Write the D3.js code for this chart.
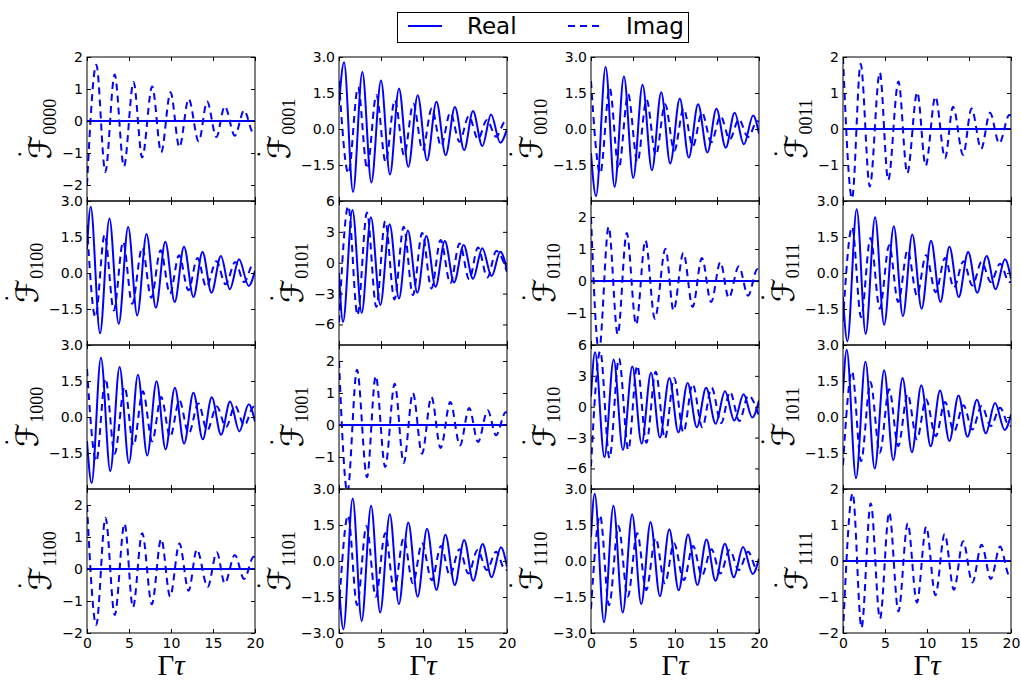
<!DOCTYPE html>
<html><head><meta charset="utf-8">
<script src="https://cdn.jsdelivr.net/npm/d3@7"></script>
<style>body{margin:0;background:#fff} svg{display:block}</style>
</head><body>
<svg id="chart" width="1021" height="681"></svg>
<script>
// Panel keys (row-major 4x4 grid)
const panelKeys = ["0000","0001","0010","0011","0100","0101","0110","0111",
                   "1000","1001","1010","1011","1100","1101","1110","1111"];

// y ranges and tick values for each panel
const yDomains = [[-2.5,2],[-3,3],[-3,3],[-2,2],
                  [-3,3],[-8,6],[-2,2.5],[-3,3],
                  [-3,3],[-2,2.5],[-8,6],[-3,3],
                  [-2,2.5],[-3,3],[-3,3],[-2,2]];
const yTickVals = [[-2,-1,0,1,2],[-1.5,0,1.5,3],[-1.5,0,1.5,3],[-1,0,1,2],
                   [-1.5,0,1.5,3],[-6,-3,0,3,6],[-1,0,1,2],[-1.5,0,1.5,3],
                   [-1.5,0,1.5,3],[-1,0,1,2],[-6,-3,0,3,6],[-1.5,0,1.5,3],
                   [-2,-1,0,1,2],[-3,-1.5,0,1.5,3],[-3,-1.5,0,1.5,3],[-2,-1,0,1,2]];
const xTickVals = [0,5,10,15,20];

// Real parts: [Γτ, value] at turning points
const flat = [[0,0],[20,0]];
const re0000 = flat;
const re0001 = [[0,1.0],[0.6,2.78],[1.67,-2.62],[2.78,2.37],[3.85,-2.23],[5.0,2.02],[6.07,-1.9],[7.14,1.69],[8.25,-1.58],[9.37,1.41],[10.48,-1.31],[11.6,1.14],[12.7,-1.09],[13.8,0.92],[14.9,-0.88],[15.95,0.75],[17.06,-0.71],[18.1,0.6],[19.2,-0.57],[20,0.0]];
const re0010 = [[0,-1.0],[0.6,-2.8],[1.74,2.58],[2.81,-2.41],[3.92,2.19],[5.03,-2.04],[6.14,1.84],[7.25,-1.72],[8.36,1.53],[9.43,-1.44],[10.57,1.27],[11.64,-1.19],[12.75,1.03],[13.86,-0.98],[14.93,0.84],[16.04,-0.78],[17.1,0.68],[18.2,-0.64],[19.3,0.56],[20,-0.2]];
const re0011 = flat;
const re0100 = [[0,1.0],[0.44,2.76],[1.55,-2.51],[2.67,2.27],[3.78,-2.12],[4.9,1.92],[5.98,-1.77],[7.09,1.62],[8.2,-1.45],[9.32,1.3],[10.44,-1.21],[11.55,1.09],[12.67,-1.0],[13.75,0.88],[14.82,-0.82],[15.94,0.71],[17.0,-0.68],[18.1,0.57],[19.25,-0.54],[20,0.1]];
const re0101 = [[0,-1.0],[0.48,-5.75],[1.6,5.13],[2.7,-4.87],[3.8,4.42],[4.92,-4.12],[6.03,3.73],[7.14,-3.47],[8.2,3.12],[9.33,-2.92],[10.4,2.6],[11.5,-2.34],[12.6,2.11],[13.7,-1.92],[14.84,1.72],[15.95,-1.56],[17.06,1.4],[18.17,-1.3],[19.2,1.07],[20,-0.7]];
const re0110 = flat;
const re0111 = [[0,-1.0],[0.52,-2.85],[1.63,2.66],[2.7,-2.54],[3.82,2.32],[4.9,-2.16],[6.05,1.95],[7.13,-1.8],[8.25,1.6],[9.36,-1.49],[10.48,1.34],[11.6,-1.21],[12.67,1.09],[13.78,-1.0],[14.9,0.88],[15.98,-0.82],[17.1,0.71],[18.17,-0.68],[19.28,0.57],[20,-0.24]];
const re1000 = [[0,-1.0],[0.55,-2.75],[1.66,2.47],[2.77,-2.26],[3.88,2.08],[5.0,-1.92],[6.06,1.76],[7.17,-1.6],[8.28,1.49],[9.35,-1.35],[10.46,1.22],[11.56,-1.11],[12.67,1.01],[13.78,-0.93],[14.85,0.82],[15.96,-0.74],[17.03,0.65],[18.14,-0.6],[19.25,0.53],[20,-0.2]];
const re1001 = flat;
const re1010 = [[0,1.0],[0.48,5.3],[1.6,-4.9],[2.7,4.6],[3.8,-4.2],[4.92,3.9],[6.03,-3.6],[7.14,3.3],[8.2,-3.0],[9.33,2.8],[10.4,-2.5],[11.5,2.3],[12.6,-2.0],[13.7,1.85],[14.84,-1.65],[15.95,1.5],[17.06,-1.35],[18.17,1.2],[19.2,-1.05],[20,0.6]];
const re1011 = [[0,1.0],[0.44,2.8],[1.55,-2.55],[2.67,2.3],[3.78,-2.15],[4.9,1.95],[5.98,-1.8],[7.09,1.62],[8.2,-1.47],[9.32,1.32],[10.44,-1.22],[11.55,1.1],[12.67,-1.0],[13.75,0.9],[14.82,-0.82],[15.94,0.72],[17.0,-0.68],[18.1,0.58],[19.25,-0.54],[20,0.1]];
const re1100 = flat;
const re1101 = [[0,-1.0],[0.52,-2.85],[1.63,2.6],[2.7,-2.5],[3.82,2.3],[4.9,-2.15],[6.05,1.95],[7.13,-1.8],[8.25,1.6],[9.36,-1.49],[10.48,1.34],[11.6,-1.21],[12.67,1.09],[13.78,-1.0],[14.9,0.88],[15.98,-0.82],[17.1,0.71],[18.17,-0.68],[19.28,0.57],[20,-0.24]];
const re1110 = [[0,1.0],[0.44,2.8],[1.55,-2.55],[2.67,2.3],[3.78,-2.15],[4.9,1.95],[5.98,-1.8],[7.09,1.62],[8.2,-1.47],[9.32,1.32],[10.44,-1.22],[11.55,1.1],[12.67,-1.0],[13.75,0.9],[14.82,-0.82],[15.94,0.72],[17.0,-0.68],[18.1,0.58],[19.25,-0.54],[20,0.1]];
const re1111 = flat;

// Imaginary parts: [Γτ, value] at turning points
const im0000 = [[0,-2.0],[1.11,1.76],[2.18,-1.59],[3.29,1.45],[4.4,-1.42],[5.54,1.22],[6.57,-1.14],[7.76,1.08],[8.83,-0.98],[9.94,0.9],[11.0,-0.82],[12.1,0.69],[13.3,-0.64],[14.3,0.61],[15.4,-0.5],[16.4,0.46],[17.6,-0.46],[18.7,0.33],[19.8,-0.37],[20,-0.36]];
const im0001 = [[0,2.0],[1.12,-1.85],[2.26,1.73],[3.35,-1.65],[4.45,1.42],[5.55,-1.37],[6.65,1.21],[7.75,-1.09],[8.85,1.05],[9.95,-0.88],[11.05,0.86],[12.15,-0.71],[13.25,0.68],[14.35,-0.53],[15.45,0.54],[16.55,-0.42],[17.6,0.38],[18.7,-0.32],[19.8,0.31],[20,0.3]];
const im0010 = [[0,2.0],[1.1,-1.85],[2.22,1.7],[3.3,-1.65],[4.42,1.45],[5.52,-1.37],[6.62,1.22],[7.72,-1.1],[8.82,1.03],[9.92,-0.9],[11.02,0.85],[12.12,-0.72],[13.22,0.68],[14.32,-0.55],[15.42,0.54],[16.52,-0.43],[17.6,0.4],[18.7,-0.33],[19.8,0.32],[20,0.31]];
const im0011 = [[0,2.0],[1.08,-1.93],[2.1,1.81],[3.19,-1.6],[4.38,1.57],[5.38,-1.42],[6.6,1.32],[7.65,-1.23],[8.84,1.02],[9.84,-1.02],[11.0,0.9],[12.15,-0.81],[13.1,0.62],[14.3,-0.72],[15.3,0.57],[16.45,-0.55],[17.5,0.45],[18.6,-0.4],[19.8,0.39],[20,0.38]];
const im0100 = [[0,2.0],[1.0,-1.84],[2.1,1.6],[3.2,-1.56],[4.3,1.3],[5.38,-1.28],[6.57,1.06],[7.65,-1.03],[8.76,0.95],[9.88,-0.86],[10.96,0.74],[12.07,-0.72],[13.15,0.63],[14.2,-0.58],[15.4,0.49],[16.5,-0.47],[17.65,0.46],[18.7,-0.38],[19.8,0.38],[20,0.36]];
const im0101 = [[0,-5.8],[1.1,5.5],[2.2,-5.1],[3.33,4.87],[4.44,-4.3],[5.5,4.06],[6.6,-3.57],[7.7,3.5],[8.8,-3.15],[9.9,2.9],[11.0,-2.5],[12.1,2.2],[13.25,-2.0],[14.36,1.88],[15.5,-1.62],[16.55,1.49],[17.66,-1.43],[18.73,1.13],[20,-0.9]];
const im0110 = [[0,2.0],[0.95,-2.2],[2.1,1.69],[3.18,-1.67],[4.25,1.5],[5.37,-1.36],[6.48,1.27],[7.6,-1.18],[8.87,1.01],[9.82,-0.92],[11.0,0.88],[12.1,-0.81],[13.2,0.72],[14.3,-0.66],[15.4,0.59],[16.4,-0.53],[17.6,0.46],[18.7,-0.46],[19.8,0.37],[20,0.35]];
const im0111 = [[0,-2.0],[1.08,1.92],[2.15,-1.84],[3.27,1.46],[4.38,-1.49],[5.5,1.16],[6.57,-1.21],[7.69,0.95],[8.8,-0.93],[9.88,0.74],[11.04,-0.8],[12.15,0.63],[13.2,-0.61],[14.34,0.49],[15.4,-0.52],[16.5,0.46],[17.6,-0.38],[18.7,0.39],[19.8,-0.38],[20,-0.37]];
const im1000 = [[0,2.0],[1.1,-1.85],[2.2,1.6],[3.3,-1.53],[4.47,1.25],[5.54,-1.18],[6.65,1.07],[7.76,-1.01],[8.83,0.83],[9.9,-0.83],[11.0,0.69],[12.1,-0.69],[13.27,0.56],[14.3,-0.56],[15.45,0.44],[16.55,-0.42],[17.62,0.46],[18.73,-0.35],[19.85,0.43],[20,0.42]];
const im1001 = [[0,2.0],[1.0,-2.1],[2.14,1.73],[3.33,-1.63],[4.37,1.53],[5.5,-1.31],[6.63,1.29],[7.7,-1.19],[8.8,1.0],[9.88,-0.9],[11.0,0.88],[12.1,-0.72],[13.25,0.72],[14.4,-0.64],[15.5,0.53],[16.55,-0.53],[17.7,0.46],[18.7,-0.32],[19.85,0.4],[20,0.39]];
const im1010 = [[0,-5.8],[1.1,5.4],[2.2,-5.0],[3.33,4.7],[4.44,-4.2],[5.5,4.0],[6.6,-3.5],[7.7,3.4],[8.8,-3.1],[9.9,2.8],[11.0,-2.5],[12.1,2.2],[13.25,-2.0],[14.36,1.85],[15.5,-1.6],[16.55,1.45],[17.66,-1.4],[18.73,1.1],[20,-0.9]];
const im1011 = [[0,-2.0],[1.08,1.9],[2.15,-1.84],[3.27,1.46],[4.38,-1.49],[5.5,1.16],[6.57,-1.21],[7.69,0.95],[8.8,-0.93],[9.88,0.74],[11.04,-0.8],[12.15,0.63],[13.2,-0.61],[14.34,0.49],[15.4,-0.52],[16.5,0.46],[17.6,-0.38],[18.7,0.39],[19.8,-0.38],[20,-0.37]];
const im1100 = [[0,2.0],[1.1,-1.75],[2.2,1.6],[3.3,-1.44],[4.47,1.42],[5.47,-1.2],[6.57,1.12],[7.72,-1.1],[8.83,0.94],[9.9,-0.86],[11.0,0.8],[12.1,-0.68],[13.07,0.61],[14.37,-0.56],[15.45,0.52],[16.4,-0.45],[17.6,0.44],[18.7,-0.31],[19.85,0.38],[20,0.37]];
const im1101 = [[0,-2.0],[1.08,1.9],[2.15,-1.84],[3.27,1.46],[4.38,-1.49],[5.5,1.16],[6.57,-1.21],[7.69,0.95],[8.8,-0.93],[9.88,0.74],[11.04,-0.8],[12.15,0.63],[13.2,-0.61],[14.34,0.49],[15.4,-0.52],[16.5,0.46],[17.6,-0.38],[18.7,0.39],[19.8,-0.38],[20,-0.37]];
const im1110 = [[0,-2.0],[1.08,1.9],[2.15,-1.84],[3.27,1.46],[4.38,-1.49],[5.5,1.16],[6.57,-1.21],[7.69,0.95],[8.8,-0.93],[9.88,0.74],[11.04,-0.8],[12.15,0.63],[13.2,-0.61],[14.34,0.49],[15.4,-0.52],[16.5,0.46],[17.6,-0.38],[18.7,0.39],[19.8,-0.38],[20,-0.37]];
const im1111 = [[0,-2.0],[1.15,1.88],[2.2,-1.85],[3.3,1.6],[4.4,-1.6],[5.5,1.35],[6.6,-1.4],[7.7,1.05],[8.8,-1.15],[9.9,0.95],[11.0,-0.95],[12.1,0.75],[13.2,-0.8],[14.3,0.55],[15.4,-0.6],[16.5,0.45],[17.6,-0.5],[18.7,0.4],[19.8,-0.4],[20,-0.38]];

const realSeries = [re0000,re0001,re0010,re0011,re0100,re0101,re0110,re0111,
                    re1000,re1001,re1010,re1011,re1100,re1101,re1110,re1111];
const imagSeries = [im0000,im0001,im0010,im0011,im0100,im0101,im0110,im0111,
                    im1000,im1001,im1010,im1011,im1100,im1101,im1110,im1111];

const legendLabels = ["Real","Imag"];
const xLabelMain = "Γ", xLabelItalic = "τ";

// ---- layout ----
const colX = [87, 339, 591, 843];
const rowY = [57, 201, 345, 489];
const W = 168, H = 144;
const BLUE = "#0000ff";
const DASH = "7,5";
const tickFont = "DejaVu Sans, sans-serif";

const svg = d3.select("#chart");
const defs = svg.append("defs");

panelKeys.forEach((key, i) => {
  const r = Math.floor(i / 4), c = i % 4;
  const g = svg.append("g").attr("transform", `translate(${colX[c]},${rowY[r]})`);
  const x = d3.scaleLinear().domain([0, 20]).range([0, W]);
  const y = d3.scaleLinear().domain(yDomains[i]).range([H, 0]);

  defs.append("clipPath").attr("id", "clip" + i)
    .append("rect").attr("width", W).attr("height", H);

  const line = d3.line().x(d => x(d[0])).y(d => y(d[1])).curve(d3.curveMonotoneX);
  const plot = g.append("g").attr("clip-path", `url(#clip${i})`);
  plot.append("path").datum(realSeries[i]).attr("d", line)
    .attr("fill", "none").attr("stroke", BLUE).attr("stroke-width", 2);
  plot.append("path").datum(imagSeries[i]).attr("d", line)
    .attr("fill", "none").attr("stroke", BLUE).attr("stroke-width", 2)
    .attr("stroke-dasharray", DASH);

  // frame
  g.append("rect").attr("width", W).attr("height", H)
    .attr("fill", "none").attr("stroke", "#000").attr("stroke-width", 1);

  const decimals = yTickVals[i].some(v => !Number.isInteger(v));
  const fmt = decimals ? d3.format(".1f") : d3.format("d");

  const yl = g.append("g").call(d3.axisLeft(y).tickValues(yTickVals[i])
      .tickSize(-4).tickPadding(4).tickFormat(fmt));
  const yr = g.append("g").attr("transform", `translate(${W},0)`)
    .call(d3.axisRight(y).tickValues(yTickVals[i]).tickSize(-4).tickFormat(""));
  const xt = g.append("g").call(d3.axisTop(x).tickValues(xTickVals).tickSize(-4).tickFormat(""));
  const xb = g.append("g").attr("transform", `translate(0,${H})`)
    .call(d3.axisBottom(x).tickValues(xTickVals).tickSize(-4).tickPadding(5)
      .tickFormat(r === 3 ? d3.format("d") : ""));
  [yl, yr, xt, xb].forEach(a => {
    a.select(".domain").remove();
    a.selectAll("line").attr("stroke", "#000");
    a.selectAll("text").attr("font-family", tickFont).attr("font-size", 14).attr("fill", "#000");
  });

  // y label: dotted script F with the panel key as subscript
  let minLeft = 0;
  yl.selectAll("text").each(function () {
    minLeft = Math.min(minLeft, this.getBBox().x);
  });
  const lab = g.append("g");
  const fT = lab.append("text").text("ℱ")
    .attr("font-family", "DejaVu Sans, sans-serif").attr("font-size", 31);
  const sT = lab.append("text").text(key)
    .attr("font-family", "Liberation Serif, serif").attr("font-size", 18).attr("y", 5);
  const fw = fT.node().getComputedTextLength();
  const sw = sT.node().getComputedTextLength();
  const start = -(fw + sw) / 2;
  fT.attr("x", start);
  sT.attr("x", start + fw);
  const dT = lab.append("text").text("˙")
    .attr("font-family", "DejaVu Sans, sans-serif").attr("font-size", 24);
  const db = dT.node().getBBox();
  dT.attr("x", start + 5 - db.x - db.width / 2).attr("y", -22 - db.y - db.height / 2);
  lab.attr("transform", `translate(${minLeft - 11},${H / 2}) rotate(-90)`);

  if (r === 3) {
    const xl = g.append("text").attr("x", W / 2).attr("y", 675 - rowY[3])
      .attr("text-anchor", "middle").attr("font-family", "Liberation Serif, serif")
      .attr("font-size", 29);
    xl.append("tspan").text(xLabelMain);
    xl.append("tspan").text(xLabelItalic).attr("font-style", "italic");
  }
});

// legend
const lg = svg.append("g");
lg.append("rect").attr("x", 397.5).attr("y", 12.5).attr("width", 291).attr("height", 30)
  .attr("fill", "#fff").attr("stroke", "#000").attr("stroke-width", 1);
lg.append("line").attr("x1", 408).attr("x2", 442).attr("y1", 26).attr("y2", 26)
  .attr("stroke", BLUE).attr("stroke-width", 2);
lg.append("line").attr("x1", 568).attr("x2", 600).attr("y1", 26).attr("y2", 26)
  .attr("stroke", BLUE).attr("stroke-width", 2).attr("stroke-dasharray", DASH);
lg.append("text").attr("x", 467).attr("y", 34).text(legendLabels[0])
  .attr("font-family", tickFont).attr("font-size", 23);
lg.append("text").attr("x", 626).attr("y", 34).text(legendLabels[1])
  .attr("font-family", tickFont).attr("font-size", 23);
</script>
</body></html>
